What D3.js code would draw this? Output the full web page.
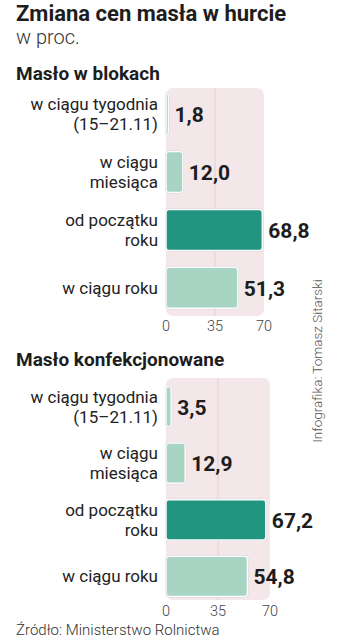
<!DOCTYPE html>
<html>
<head>
<meta charset="utf-8">
<script src="https://cdn.jsdelivr.net/npm/d3@7"></script>
<style>
  body { margin: 0; background: #fff; }
  svg { display: block; font-family: Roboto, "Noto Sans", sans-serif; }
</style>
</head>
<body>
<div id="chart"></div>
<script>
// data
var categories = [
  ["w ciągu tygodnia", "(15–21.11)"],
  ["w ciągu", "miesiąca"],
  ["od początku", "roku"],
  ["w ciągu roku"]
];
var blokiValues = [1.8, 12.0, 68.8, 51.3];
var konfValues = [3.5, 12.9, 67.2, 54.8];
var tickValues = [0, 35, 70];
var panelTitles = ["Masło w blokach", "Masło konfekcjonowane"];

var svg = d3.select("#chart").append("svg")
  .attr("width", 347)
  .attr("height", 640);

// titles
svg.append("text").attr("x", 16).attr("y", 21)
  .style("font-size", "22px").style("font-weight", 700).attr("fill", "#1d1d1d")
  .text("Zmiana cen masła w hurcie");
svg.append("text").attr("x", 16).attr("y", 44)
  .style("font-size", "20px").style("font-weight", 300).attr("fill", "#333")
  .text("w proc.");

var panels = [
  { title: panelTitles[0], values: blokiValues, titleY: 80, bandRange: [85, 317], bgTop: 88, bgBottom: 316, xMax: 264, tickY: 331 },
  { title: panelTitles[1], values: konfValues, titleY: 366, bandRange: [378, 605], bgTop: 378, bgBottom: 600, xMax: 270, tickY: 616 }
];

panels.forEach(function(p) {
  var x = d3.scaleLinear().domain([0, 70]).range([166, p.xMax]);
  var y = d3.scaleBand().domain(d3.range(categories.length))
    .range(p.bandRange).paddingInner(0.29).paddingOuter(0.15);

  svg.append("text").attr("x", 16).attr("y", p.titleY)
    .style("font-size", "19px").style("font-weight", 700).attr("fill", "#1d1d1d")
    .text(p.title);

  var g = svg.append("g");

  // pink background
  g.append("rect")
    .attr("x", x(0)).attr("y", p.bgTop)
    .attr("width", x(70) - x(0)).attr("height", p.bgBottom - p.bgTop)
    .attr("rx", 7)
    .attr("fill", "#f4e7e9");

  // grid line at 35
  g.append("line")
    .attr("x1", x(35)).attr("x2", x(35))
    .attr("y1", p.bgTop).attr("y2", p.bgBottom)
    .attr("stroke", "#e2d0d3").attr("stroke-width", 1);

  // bars: gray outline, white rim, fill
  g.selectAll(".outline").data(p.values).enter().append("rect")
    .attr("x", x(0) - 1)
    .attr("y", function(d, i) { return y(i) - 1; })
    .attr("width", function(d) { return x(d) - x(0) + 2; })
    .attr("height", y.bandwidth() + 2)
    .attr("rx", 4)
    .attr("fill", "#c9c9c9");

  g.selectAll(".bar").data(p.values).enter().append("rect")
    .attr("x", x(0))
    .attr("y", function(d, i) { return y(i); })
    .attr("width", function(d) { return x(d) - x(0); })
    .attr("height", y.bandwidth())
    .attr("rx", 3)
    .attr("fill", function(d, i) { return i === 2 ? "#21957f" : "#a8d4c4"; })
    .attr("stroke", "#fbfbfb").attr("stroke-width", 1.5);

  // value labels
  g.selectAll(".val").data(p.values).enter().append("text")
    .attr("x", function(d) { return x(d) + 6; })
    .attr("y", function(d, i) { return y(i) + y.bandwidth() / 2 + 8; })
    .style("font-size", "21px").style("font-weight", 700).attr("fill", "#1d1d1d")
    .text(function(d) { return d3.format(".1f")(d).replace(".", ","); });

  // category labels, one text per line
  categories.forEach(function(lines, i) {
    var cy = y(i) + y.bandwidth() / 2;
    var ys = lines.length === 1 ? [cy + 6] : [cy - 4, cy + 16];
    lines.forEach(function(line, j) {
      g.append("text")
        .attr("x", 158).attr("y", ys[j])
        .attr("text-anchor", "end")
        .style("font-size", "17px").attr("fill", "#222")
        .text(line);
    });
  });

  // axis tick labels
  g.selectAll(".tick").data(tickValues).enter().append("text")
    .attr("x", function(d) { return x(d); })
    .attr("y", p.tickY)
    .attr("text-anchor", "middle")
    .style("font-size", "14.5px").style("font-weight", 300).attr("fill", "#444")
    .text(function(d) { return d; });
});

// credit, rotated
svg.append("text")
  .attr("transform", "translate(322, 361) rotate(-90)")
  .attr("text-anchor", "middle")
  .style("font-size", "13.5px").style("font-weight", 300).attr("fill", "#555")
  .text("Infografika: Tomasz Sitarski");

// source
svg.append("text").attr("x", 16).attr("y", 635)
  .style("font-size", "15px").style("font-weight", 300).attr("fill", "#333")
  .text("Źródło: Ministerstwo Rolnictwa");
</script>
</body>
</html>
